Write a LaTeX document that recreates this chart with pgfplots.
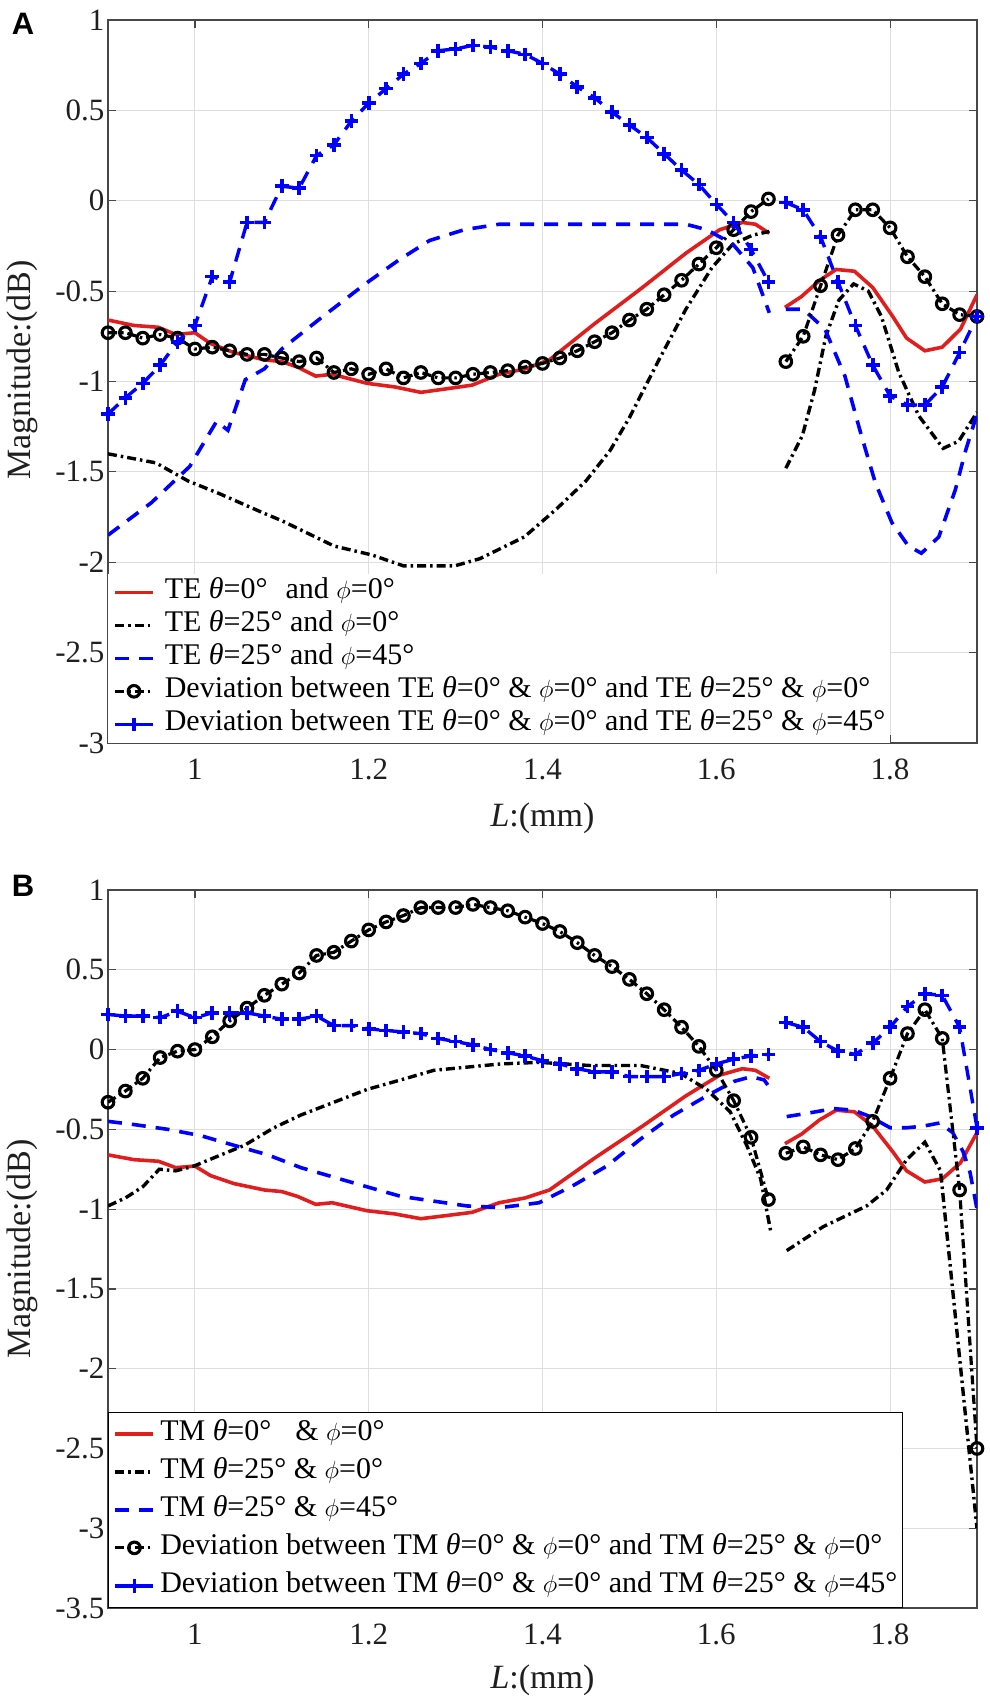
\documentclass[border=0pt]{standalone}
\usepackage{fontspec}
\setmainfont{Liberation Serif}
\newfontfamily\panelfont{Liberation Sans}
\usepackage{pgfplots}
\pgfplotsset{compat=1.18}
\usepackage{pgfplotstable}

\definecolor{mred}{RGB}{225,30,30}
\definecolor{mblue}{RGB}{0,0,255}

% ---------- Panel A data ----------
\pgfplotstableread{
x y
0.900 -0.66
0.930 -0.69
0.958 -0.70
0.978 -0.74
1.000 -0.73
1.018 -0.79
1.045 -0.84
1.080 -0.88
1.100 -0.89
1.118 -0.92
1.139 -0.97
1.158 -0.96
1.198 -1.01
1.230 -1.03
1.260 -1.06
1.290 -1.04
1.319 -1.02
1.350 -0.96
1.380 -0.93
1.408 -0.88
1.460 -0.68
1.515 -0.48
1.565 -0.29
1.604 -0.16
1.630 -0.12
1.645 -0.13
1.661 -0.18
1.670 nan
1.679 -0.59
1.698 -0.53
1.719 -0.44
1.738 -0.38
1.759 -0.39
1.780 -0.48
1.803 -0.64
1.819 -0.76
1.840 -0.83
1.860 -0.81
1.881 -0.71
1.900 -0.52
}\redtab

\pgfplotstableread{
x y
0.900 -1.40
0.955 -1.45
0.992 -1.55
1.028 -1.62
1.080 -1.73
1.100 -1.77
1.160 -1.91
1.204 -1.96
1.240 -2.02
1.299 -2.02
1.328 -1.98
1.379 -1.86
1.415 -1.71
1.450 -1.55
1.478 -1.38
1.500 -1.20
1.534 -0.88
1.565 -0.60
1.595 -0.37
1.619 -0.24
1.642 -0.19
1.661 -0.17
1.670 nan
1.680 -1.48
1.699 -1.30
1.713 -1.05
1.726 -0.75
1.741 -0.55
1.758 -0.46
1.775 -0.50
1.790 -0.64
1.810 -0.95
1.833 -1.19
1.861 -1.37
1.879 -1.33
1.900 -1.17
}\teBtab

\pgfplotstableread{
x y
0.900 -1.85
0.950 -1.67
0.994 -1.47
1.025 -1.22
1.038 -1.27
1.058 -0.99
1.080 -0.93
1.100 -0.82
1.142 -0.66
1.196 -0.46
1.234 -0.33
1.270 -0.22
1.310 -0.16
1.350 -0.13
1.450 -0.13
1.565 -0.13
1.589 -0.16
1.619 -0.24
1.642 -0.37
1.661 -0.62
1.670 nan
1.680 -0.60
1.700 -0.60
1.725 -0.71
1.748 -0.97
1.767 -1.30
1.783 -1.56
1.802 -1.78
1.821 -1.91
1.836 -1.95
1.856 -1.86
1.875 -1.60
1.887 -1.38
1.900 -1.18
}\teCtab

\pgfplotstableread{
x y
0.90 -0.73
0.92 -0.73
0.94 -0.76
0.96 -0.74
0.98 -0.76
1.00 -0.82
1.02 -0.81
1.04 -0.83
1.06 -0.85
1.08 -0.85
1.10 -0.87
1.12 -0.89
1.14 -0.87
1.16 -0.95
1.18 -0.93
1.20 -0.96
1.22 -0.93
1.24 -0.98
1.26 -0.95
1.28 -0.98
1.30 -0.98
1.32 -0.96
1.34 -0.95
1.36 -0.94
1.38 -0.92
1.40 -0.90
1.42 -0.87
1.44 -0.83
1.46 -0.78
1.48 -0.73
1.50 -0.66
1.52 -0.60
1.54 -0.52
1.56 -0.44
1.58 -0.35
1.60 -0.26
1.62 -0.16
1.64 -0.06
1.66 0.01
1.67 nan
1.68 -0.89
1.70 -0.75
1.72 -0.47
1.74 -0.19
1.76 -0.05
1.78 -0.05
1.80 -0.15
1.82 -0.31
1.84 -0.42
1.86 -0.57
1.88 -0.63
1.90 -0.64
}\teDevAtab

\pgfplotstableread{
x y
0.90 -1.18
0.92 -1.09
0.94 -1.01
0.96 -0.91
0.98 -0.78
1.00 -0.69
1.02 -0.42
1.04 -0.45
1.06 -0.12
1.08 -0.12
1.10 0.08
1.12 0.07
1.14 0.25
1.16 0.31
1.18 0.44
1.20 0.54
1.22 0.62
1.24 0.70
1.26 0.76
1.28 0.83
1.30 0.84
1.32 0.86
1.34 0.85
1.36 0.83
1.38 0.81
1.40 0.76
1.42 0.70
1.44 0.63
1.46 0.57
1.48 0.49
1.50 0.42
1.52 0.35
1.54 0.26
1.56 0.17
1.58 0.09
1.60 -0.02
1.62 -0.12
1.64 -0.27
1.66 -0.45
1.67 nan
1.68 -0.01
1.70 -0.05
1.72 -0.20
1.74 -0.45
1.76 -0.69
1.78 -0.91
1.80 -1.08
1.82 -1.13
1.84 -1.13
1.86 -1.03
1.88 -0.84
1.90 -0.64
}\teDevBtab

% ---------- Panel B data ----------
\pgfplotstableread{
x y
0.900 -0.98
0.920 -0.93
0.940 -0.86
0.959 -0.75
0.978 -0.76
0.999 -0.73
1.030 -0.66
1.057 -0.60
1.091 -0.49
1.122 -0.41
1.160 -0.33
1.198 -0.25
1.237 -0.19
1.275 -0.13
1.313 -0.11
1.352 -0.09
1.396 -0.08
1.455 -0.10
1.513 -0.10
1.559 -0.15
1.589 -0.25
1.616 -0.39
1.635 -0.60
1.651 -0.81
1.663 -1.15
1.670 nan
1.681 -1.26
1.723 -1.11
1.773 -0.98
1.796 -0.88
1.819 -0.69
1.840 -0.58
1.858 -0.76
1.900 -3.00
}\tmBtab

\pgfplotstableread{
x y
0.900 -0.45
0.930 -0.47
0.969 -0.50
1.007 -0.54
1.045 -0.60
1.084 -0.66
1.122 -0.74
1.160 -0.80
1.198 -0.86
1.237 -0.92
1.275 -0.95
1.313 -0.98
1.352 -0.99
1.396 -0.96
1.436 -0.85
1.474 -0.73
1.513 -0.56
1.551 -0.41
1.589 -0.29
1.620 -0.20
1.640 -0.17
1.655 -0.19
1.663 -0.25
1.670 nan
1.681 -0.42
1.704 -0.40
1.735 -0.37
1.758 -0.38
1.777 -0.42
1.800 -0.49
1.819 -0.49
1.838 -0.48
1.857 -0.46
1.872 -0.52
1.884 -0.64
1.892 -0.77
1.900 -1.00
}\tmCtab

\pgfplotstableread{
x y
0.90 -0.33
0.92 -0.26
0.94 -0.18
0.96 -0.05
0.98 -0.01
1.00 0.00
1.02 0.08
1.04 0.18
1.06 0.26
1.08 0.34
1.10 0.41
1.12 0.48
1.14 0.59
1.16 0.61
1.18 0.68
1.20 0.75
1.22 0.80
1.24 0.84
1.26 0.89
1.28 0.89
1.30 0.89
1.32 0.91
1.34 0.89
1.36 0.87
1.38 0.83
1.40 0.79
1.42 0.74
1.44 0.67
1.46 0.59
1.48 0.52
1.50 0.44
1.52 0.35
1.54 0.25
1.56 0.14
1.58 0.02
1.60 -0.13
1.62 -0.32
1.64 -0.55
1.66 -0.94
1.67 nan
1.68 -0.65
1.70 -0.61
1.72 -0.66
1.74 -0.69
1.76 -0.62
1.78 -0.45
1.80 -0.18
1.82 0.10
1.84 0.25
1.86 0.07
1.88 -0.88
1.90 -2.50
}\tmDevAtab

\pgfplotstableread{
x y
0.90 0.22
0.92 0.21
0.94 0.21
0.96 0.20
0.98 0.24
1.00 0.20
1.02 0.23
1.04 0.23
1.06 0.23
1.08 0.21
1.10 0.19
1.12 0.19
1.14 0.21
1.16 0.15
1.18 0.15
1.20 0.13
1.22 0.12
1.24 0.11
1.26 0.10
1.28 0.07
1.30 0.05
1.32 0.03
1.34 0.00
1.36 -0.02
1.38 -0.04
1.40 -0.07
1.42 -0.09
1.44 -0.12
1.46 -0.14
1.48 -0.14
1.50 -0.17
1.52 -0.17
1.54 -0.17
1.56 -0.15
1.58 -0.13
1.60 -0.09
1.62 -0.06
1.64 -0.04
1.66 -0.03
1.67 nan
1.68 0.17
1.70 0.14
1.72 0.05
1.74 -0.01
1.76 -0.03
1.78 0.04
1.80 0.14
1.82 0.27
1.84 0.35
1.86 0.34
1.88 0.14
1.90 -0.49
}\tmDevBtab

\newcommand{\thet}{{\itshape θ}}
\newcommand{\ph}{$\phi$}

\pgfplotsset{
  common/.style={
    scale only axis, width=869pt,
    xmin=0.9, xmax=1.9,
    xtick={1,1.2,1.4,1.6,1.8},
    unbounded coords=jump,
    clip mode=individual,
    grid=major,
    major grid style={line width=0.9pt, black!13},
    axis line style={line width=1.4pt, black!72},
    every tick/.style={line width=1.2pt, black!72},
    major tick length=8pt, tick align=inside,
    /pgf/number format/assume math mode=true,
    tick label style={font=\fontsize{31}{31}\selectfont, text=black!88},
    xticklabel style={yshift=-12pt},
    label style={font=\fontsize{34}{34}\selectfont, text=black!88},
    xlabel={\textit{L}:(mm)},
    ylabel={Magnitude:(dB)},
    xlabel style={at={(axis description cs:0.5,0)}, anchor=center},
    legend cell align=left,
    legend image code/.code={\draw[mark repeat=2,mark phase=2,##1] plot coordinates {(0pt,0pt) (19pt,0pt) (38pt,0pt)};},
  },
  redline/.style={mred, line width=3.6pt, no markers, solid},
  ddline/.style={black, line width=3.4pt, no markers, dash pattern=on 9pt off 4pt on 2.5pt off 4pt},
  bdline/.style={mblue, line width=3.6pt, no markers, dash pattern=on 14pt off 10pt},
  devone/.style={black, line width=3.2pt, dash pattern=on 9pt off 4pt on 2.5pt off 4pt, mark=o, mark size=5.8pt, mark options={solid, line width=3.1pt}},
  devtwo/.style={mblue, line width=3.4pt, dash pattern=on 14pt off 10pt, mark=+, mark size=6.8pt, mark options={solid, line width=3.6pt}},
}

\begin{document}
\begin{tikzpicture}
\useasboundingbox (0pt,0pt) rectangle (990pt,-1698pt);
\node[font=\panelfont\bfseries\fontsize{31}{31}\selectfont, anchor=center] at (23pt,-24pt) {A};
\node[font=\panelfont\bfseries\fontsize{31}{31}\selectfont, anchor=center] at (23pt,-886pt) {B};

\begin{axis}[common,
  at={(108pt,-743pt)}, anchor=south west,
  height=723pt, ymin=-3, ymax=1,
  ytick={-3,-2.5,-2,-1.5,-1,-0.5,0,0.5,1},
  ylabel style={at={(axis description cs:-0.099,0.516)}, anchor=center},
  xlabel style={yshift=-75pt},
  legend style={at={(axis description cs:0,0)}, anchor=south west,
    draw=none, fill=white, font=\fontsize{30}{30}\selectfont,
    row sep=4pt, column sep=10pt, inner xsep=5pt, inner ysep=4pt,
    nodes={inner sep=0pt, text height=21pt, text depth=8pt}},
]
\addplot[redline] table[x=x,y=y]{\redtab};
\addlegendentry{TE \thet=0°\hspace{0.35em} and \ph=0°}
\addplot[ddline] table[x=x,y=y]{\teBtab};
\addlegendentry{TE \thet=25° and \ph=0°}
\addplot[bdline] table[x=x,y=y]{\teCtab};
\addlegendentry{TE \thet=25° and \ph=45°}
\addplot[devone] table[x=x,y=y]{\teDevAtab};
\addlegendentry{Deviation between TE \thet=0° \& \ph=0° and TE \thet=25° \& \ph=0°}
\addplot[devtwo] table[x=x,y=y]{\teDevBtab};
\addlegendentry{Deviation between TE \thet=0° \& \ph=0° and TE \thet=25° \& \ph=45°}
\end{axis}

\begin{axis}[common,
  at={(108pt,-1608pt)}, anchor=south west,
  height=718pt, ymin=-3.5, ymax=1,
  ytick={-3.5,-3,-2.5,-2,-1.5,-1,-0.5,0,0.5,1},
  ylabel style={at={(axis description cs:-0.099,0.5)}, anchor=center},
  xlabel style={yshift=-72pt},
  legend style={at={(axis description cs:0,0)}, anchor=south west,
    draw=black, line width=1.3pt, fill=white, font=\fontsize{30}{30}\selectfont,
    row sep=9pt, column sep=5pt, inner xsep=5pt, inner ysep=7pt,
    nodes={inner sep=0pt, text height=21pt, text depth=8pt}},
]
\addplot[redline] table[x=x,y=y]{\redtab};
\addlegendentry{TM \thet=0°\hspace{0.55em} \& \ph=0°}
\addplot[ddline] table[x=x,y=y]{\tmBtab};
\addlegendentry{TM \thet=25° \& \ph=0°}
\addplot[bdline] table[x=x,y=y]{\tmCtab};
\addlegendentry{TM \thet=25° \& \ph=45°}
\addplot[devone] table[x=x,y=y]{\tmDevAtab};
\addlegendentry{Deviation between TM \thet=0° \& \ph=0° and TM \thet=25° \& \ph=0°}
\addplot[devtwo] table[x=x,y=y]{\tmDevBtab};
\addlegendentry{Deviation between TM \thet=0° \& \ph=0° and TM \thet=25° \& \ph=45°}
\end{axis}
\end{tikzpicture}
\end{document}
